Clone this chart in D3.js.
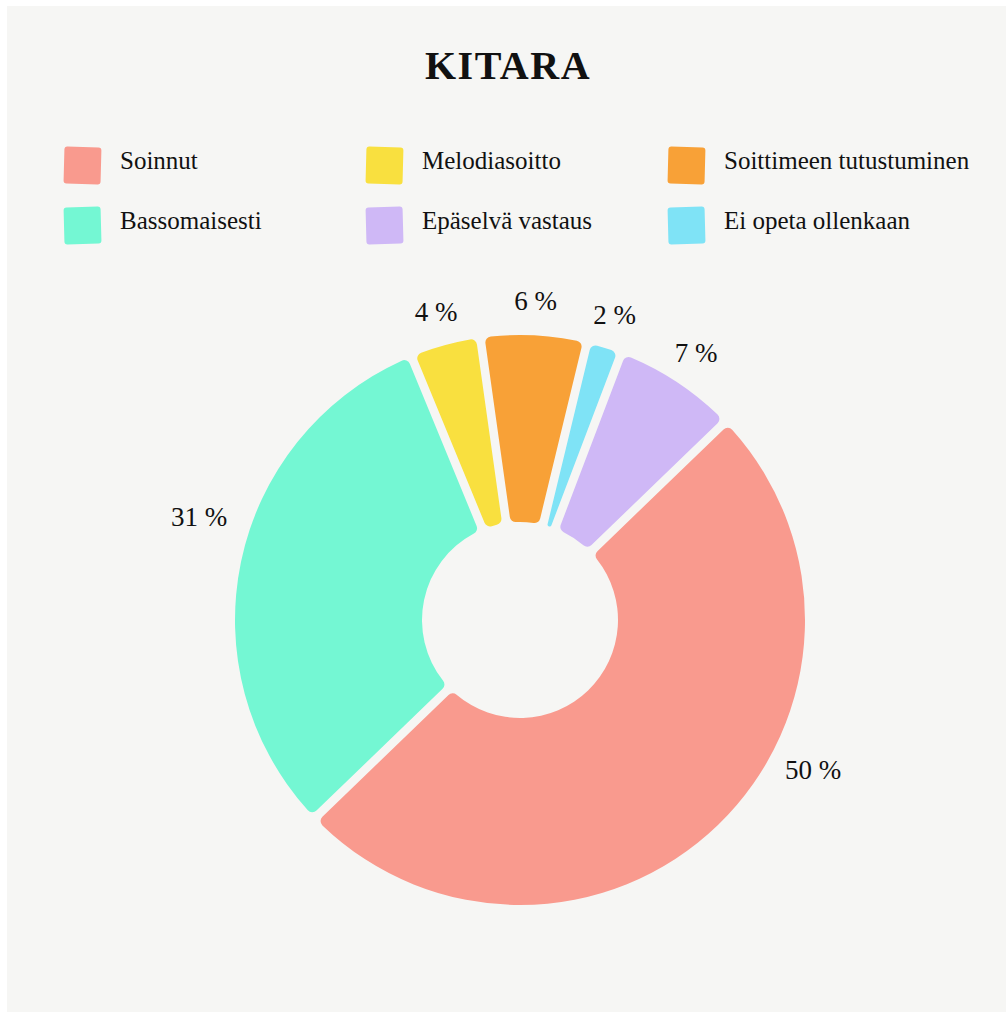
<!DOCTYPE html>
<html>
<head>
<meta charset="utf-8">
<script src="https://cdn.jsdelivr.net/npm/d3@7"></script>
<style>
  body { margin: 0; background: #ffffff; }
  svg { display: block; }
  text { font-family: "Liberation Serif", "Times New Roman", serif; fill: #111; }
</style>
</head>
<body>
<script>
// Chart data
const categories = ['Soinnut', 'Bassomaisesti', 'Melodiasoitto', 'Soittimeen tutustuminen', 'Ei opeta ollenkaan', 'Epäselvä vastaus'];
const values = [50, 31, 4, 6, 2, 7];
const colors = ['#f99a8e', '#74f7d3', '#f9e03f', '#f8a137', '#7fe3f6', '#cfb8f6'];
const legendOrder = ['Soinnut', 'Melodiasoitto', 'Soittimeen tutustuminen', 'Bassomaisesti', 'Epäselvä vastaus', 'Ei opeta ollenkaan'];
const title = 'KITARA';

const width = 1006, height = 1012;
const cx = 520, cy = 620;
const outerR = 285, innerR = 98, labelR = 320;

const svg = d3.select('body').append('svg')
  .attr('width', width)
  .attr('height', height);

// Background panel (thin white strip top/left)
svg.append('rect')
  .attr('x', 7).attr('y', 6)
  .attr('width', width - 7).attr('height', height - 6)
  .attr('fill', '#f6f6f4');

// Title
svg.append('text')
  .attr('x', 508).attr('y', 79)
  .attr('text-anchor', 'middle')
  .attr('font-size', 40)
  .attr('font-weight', 'bold')
  .attr('letter-spacing', 1.5)
  .text(title);

// Colour scale
const color = d3.scaleOrdinal().domain(categories).range(colors);

// Legend: 3 columns x 2 rows
const legend = svg.append('g');
legendOrder.forEach((name, i) => {
  const col = i % 3, row = Math.floor(i / 3);
  const x = 64 + col * 302;
  const y = 147 + row * 60;
  legend.append('rect')
    .attr('x', x).attr('y', y)
    .attr('width', 37).attr('height', 37)
    .attr('rx', 3)
    .attr('fill', color(name))
    .attr('transform', `rotate(${row === 0 ? 1.5 : -1.5},${x + 18},${y + 18})`);
  legend.append('text')
    .attr('x', x + 56).attr('y', y + 22)
    .attr('font-size', 25)
    .text(name);
});

// Donut
const start = 46 * Math.PI / 180;
const pie = d3.pie()
  .sort(null)
  .value(d => d.value)
  .startAngle(start)
  .endAngle(start + 2 * Math.PI);

const data = categories.map((c, i) => ({ name: c, value: values[i] }));
const arcs = pie(data);

const arc = d3.arc()
  .innerRadius(innerR)
  .outerRadius(outerR)
  .padAngle(0.03)
  .padRadius(outerR)
  .cornerRadius(6);

const g = svg.append('g').attr('transform', `translate(${cx},${cy})`);

g.selectAll('path')
  .data(arcs)
  .enter().append('path')
  .attr('d', arc)
  .attr('fill', d => color(d.data.name));

// Percentage labels outside the ring (the two big ones were nudged by hand in the original)
const deg = Math.PI / 180;
g.selectAll('text.pct')
  .data(arcs)
  .enter().append('text')
  .attr('class', 'pct')
  .attr('transform', d => {
    let a = (d.startAngle + d.endAngle) / 2;
    let r = labelR;
    if (d.index === 0) { a -= 19 * deg; r += 9; }
    if (d.index === 1) { a += 6 * deg; r += 17; }
    return `translate(${Math.sin(a) * r},${-Math.cos(a) * r})`;
  })
  .attr('text-anchor', 'middle')
  .attr('dy', '0.35em')
  .attr('font-size', 27)
  .text(d => `${d.data.value} %`);
</script>
</body>
</html>
